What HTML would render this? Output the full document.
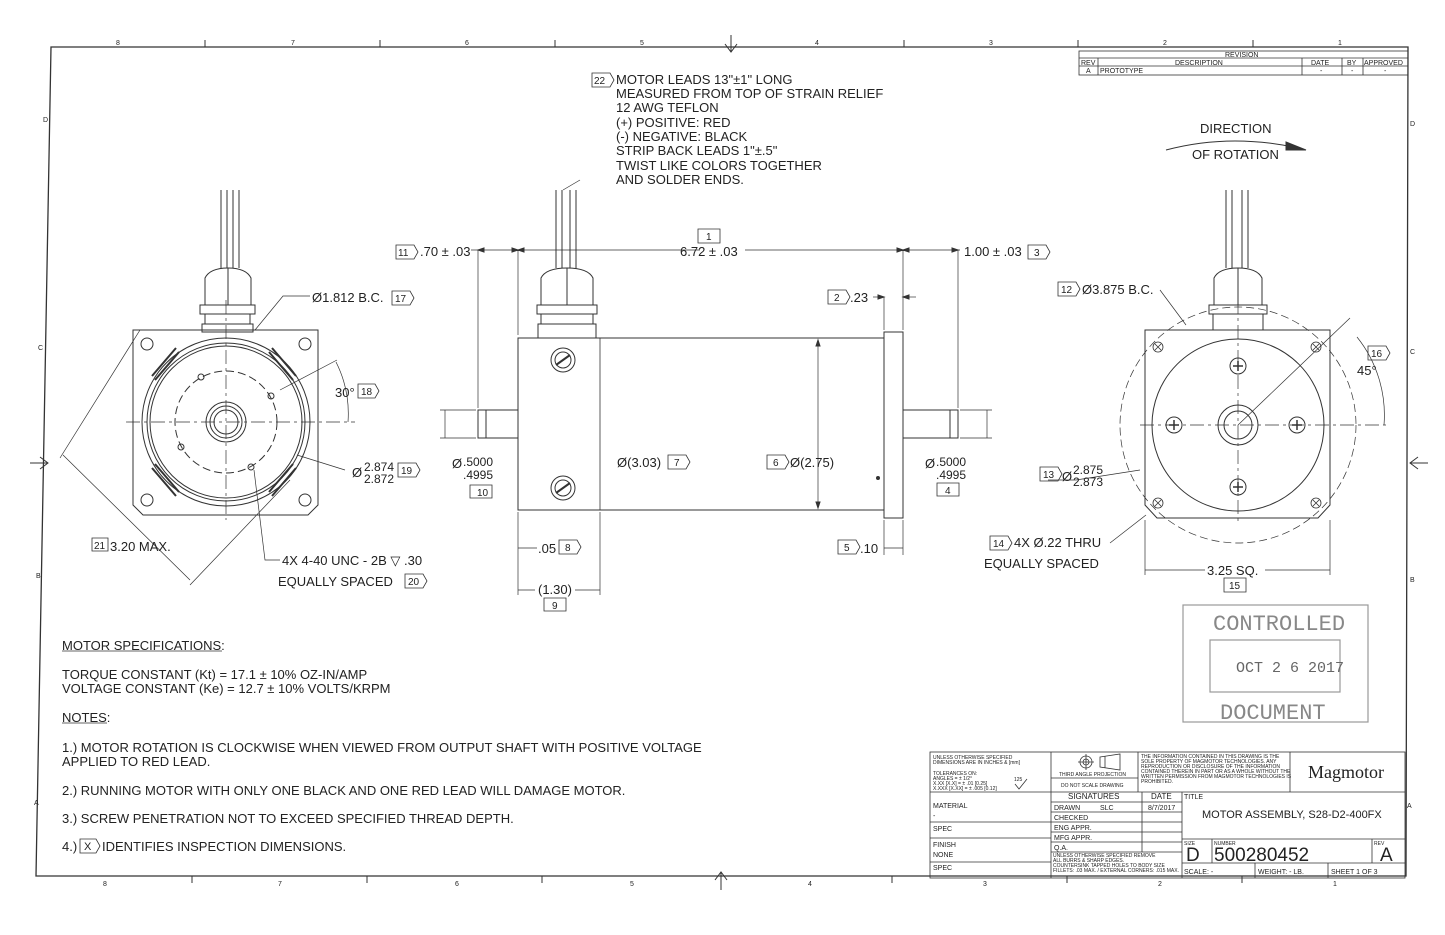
<!DOCTYPE html>
<html><head><meta charset="utf-8"><style>
html,body{margin:0;padding:0;background:#fff}
svg{display:block}
text{font-family:"Liberation Sans",Arial,sans-serif;fill:#222}
.m{font-size:13px}
.d{font-size:13px}
</style></head><body>
<svg width="1445" height="935" viewBox="0 0 1445 935" xmlns="http://www.w3.org/2000/svg" fill="none" stroke="#333" stroke-width="1">
<!-- frame -->
<path d="M51 47 L1408 47 L1406 876 L36 876 Z" stroke-width="1.3"/>
<g stroke-width="1">
<line x1="205" y1="40" x2="205" y2="47"/><line x1="380" y1="40" x2="380" y2="47"/><line x1="555" y1="40" x2="555" y2="47"/><line x1="904" y1="40" x2="904" y2="47"/><line x1="1078" y1="40" x2="1078" y2="47"/><line x1="1253" y1="40" x2="1253" y2="47"/>
<line x1="192" y1="876" x2="192" y2="883"/><line x1="367" y1="876" x2="367" y2="883"/><line x1="542" y1="876" x2="542" y2="883"/><line x1="892" y1="876" x2="892" y2="883"/><line x1="1067" y1="876" x2="1067" y2="883"/><line x1="1242" y1="876" x2="1242" y2="883"/>
</g>
<path d="M731 35 V52 M725 44 L731 52 L737 44"/>
<path d="M721 890 V872 M715 880 L721 872 L727 880"/>
<path d="M30 463 H48 M40 457 L48 463 L40 469"/>
<path d="M1428 463 H1410 M1418 457 L1410 463 L1418 469"/>
<g stroke="none" style="font-size:7px">
<text x="116" y="45">8</text><text x="291" y="45">7</text><text x="465" y="45">6</text><text x="640" y="45">5</text><text x="815" y="45">4</text><text x="989" y="45">3</text><text x="1163" y="45">2</text><text x="1338" y="45">1</text>
<text x="103" y="886">8</text><text x="278" y="886">7</text><text x="455" y="886">6</text><text x="630" y="886">5</text><text x="808" y="886">4</text><text x="983" y="886">3</text><text x="1158" y="886">2</text><text x="1333" y="886">1</text>
<text x="43" y="122">D</text><text x="38" y="350">C</text><text x="36" y="578">B</text><text x="34" y="805">A</text>
<text x="1410" y="126">D</text><text x="1410" y="354">C</text><text x="1410" y="582">B</text><text x="1407" y="808">A</text>
</g>
<!-- revision table -->
<g stroke-width="0.8">
<rect x="1079" y="51" width="329" height="24"/>
<line x1="1079" y1="58" x2="1408" y2="58"/><line x1="1079" y1="66" x2="1408" y2="66"/>
<line x1="1098" y1="58" x2="1098" y2="75"/><line x1="1302" y1="58" x2="1302" y2="75"/><line x1="1342" y1="58" x2="1342" y2="75"/><line x1="1363" y1="58" x2="1363" y2="75"/>
</g>
<g stroke="none" style="font-size:7px">
<text x="1225" y="57">REVISION</text><text x="1081" y="65">REV</text><text x="1175" y="65">DESCRIPTION</text><text x="1311" y="65">DATE</text><text x="1347" y="65">BY</text><text x="1364" y="65">APPROVED</text>
<text x="1086" y="73">A</text><text x="1100" y="73">PROTOTYPE</text><text x="1320" y="73">-</text><text x="1351" y="73">-</text><text x="1384" y="73">-</text>
</g>
<text x="1200" y="133" class="m" stroke="none">DIRECTION</text>
<text x="1192" y="159" class="m" stroke="none">OF ROTATION</text>
<path d="M1166 150 Q1230 133 1298 148"/><path d="M1286 142 L1306 150 L1286 150 Z" fill="#333"/>

<!-- LEFT VIEW -->
<g>
<line x1="221" y1="190" x2="221" y2="268"/><line x1="227" y1="190" x2="227" y2="268"/>
<line x1="233" y1="190" x2="233" y2="268"/><line x1="239" y1="190" x2="239" y2="268"/>
<path d="M205 305 V278 Q210 268 228 268 Q246 268 251 278 V305"/>
<line x1="228" y1="268" x2="228" y2="305"/>
<rect x="200" y="305" width="55" height="9"/>
<rect x="205" y="314" width="45" height="10"/>
<rect x="202" y="324" width="51" height="8"/>
<path d="M133 330 H318 V505 L308 515 H143 L133 505 Z"/>
<circle cx="226" cy="422" r="84"/><circle cx="226" cy="422" r="79"/><circle cx="226" cy="422" r="76"/>
<circle cx="147" cy="344" r="6"/><circle cx="305" cy="344" r="6"/><circle cx="147" cy="500" r="6"/><circle cx="305" cy="500" r="6"/>
<circle cx="226" cy="422" r="51" stroke-dasharray="8 4"/>
<circle cx="226" cy="422" r="20"/><circle cx="226" cy="422" r="16"/><circle cx="226" cy="422" r="12"/>
<circle cx="201" cy="377" r="3"/><circle cx="271" cy="396" r="3"/><circle cx="181" cy="447" r="3"/><circle cx="251" cy="467" r="3"/>
<path d="M152 376 L176 348 M155 380 L179 352 M296 376 L272 348 M293 380 L269 352 M152 468 L176 496 M155 464 L179 492 M296 468 L272 496 M293 464 L269 492" stroke-width="2"/>
<line x1="126" y1="422" x2="355" y2="422" stroke-dasharray="14 4 3 4" stroke-width="0.7"/>
<line x1="226" y1="300" x2="226" y2="520" stroke-dasharray="14 4 3 4" stroke-width="0.7"/>
<line x1="280" y1="390" x2="337" y2="360" stroke-width="0.7"/>
<path d="M336 362 A115 115 0 0 1 348 422" stroke-width="0.7"/>
<path d="M255 330 L283 296 H310 M297 455 L345 470 M254 470 L265 560 H280 M63 455 L190 580 M60 458 L140 330 M190 585 L290 480" stroke-width="0.7"/>
</g>
<g stroke="none" class="d">
<text x="312" y="302">Ø1.812 B.C.</text>
<text x="335" y="397">30°</text>
<text x="352" y="477">Ø</text><text x="364" y="471" style="font-size:12px">2.874</text><text x="364" y="483" style="font-size:12px">2.872</text>
<text x="110" y="551">3.20 MAX.</text>
<text x="282" y="565">4X 4-40 UNC - 2B ▽ .30</text>
<text x="278" y="586">EQUALLY SPACED</text>
</g>
<g stroke-width="0.8">
<path d="M392 291 H410 L414 298 L410 305 H392 Z"/><path d="M358 384 H375 L379 391 L375 398 H358 Z"/><path d="M398 463 H416 L420 470 L416 477 H398 Z"/>
<path d="M92 538 H108 V551 H92 Z"/><path d="M405 574 H423 L427 581 L423 588 H405 Z"/>
</g>
<g stroke="none" style="font-size:10px"><text x="395" y="302">17</text><text x="361" y="395">18</text><text x="401" y="474">19</text><text x="94" y="549">21</text><text x="408" y="585">20</text></g>

<!-- MIDDLE VIEW -->
<g>
<line x1="556" y1="190" x2="556" y2="268"/><line x1="562" y1="190" x2="562" y2="268"/>
<line x1="570" y1="190" x2="570" y2="268"/><line x1="576" y1="190" x2="576" y2="268"/>
<path d="M541 305 V278 Q546 268 567 268 Q588 268 593 278 V305"/>
<line x1="567" y1="268" x2="567" y2="305"/>
<rect x="537" y="305" width="60" height="9"/><rect x="541" y="314" width="52" height="10"/><rect x="538" y="324" width="58" height="14"/>
<rect x="518" y="338" width="366" height="172"/>
<line x1="600" y1="338" x2="600" y2="510" stroke-width="0.8"/>
<rect x="884" y="332" width="19" height="186"/>
<rect x="478" y="410" width="40" height="28"/><line x1="486" y1="410" x2="486" y2="438"/>
<rect x="903" y="410" width="55" height="28"/><line x1="950" y1="410" x2="950" y2="438"/>
<circle cx="563" cy="360" r="12"/><circle cx="563" cy="360" r="8"/><line x1="556" y1="365" x2="570" y2="355" stroke-width="2"/>
<circle cx="563" cy="488" r="12"/><circle cx="563" cy="488" r="8"/><line x1="556" y1="493" x2="570" y2="483" stroke-width="2"/>
<circle cx="878" cy="478" r="1.5" fill="#333"/>
<g stroke-width="0.7">
<line x1="478" y1="250" x2="478" y2="408"/><line x1="518" y1="250" x2="518" y2="335"/><line x1="903" y1="250" x2="903" y2="330"/><line x1="958" y1="250" x2="958" y2="408"/>
<line x1="471" y1="250" x2="518" y2="250"/><line x1="518" y1="250" x2="700" y2="250"/><line x1="745" y1="250" x2="903" y2="250"/><line x1="903" y1="250" x2="960" y2="250"/>
<line x1="884" y1="297" x2="884" y2="330"/><line x1="873" y1="297" x2="884" y2="297"/><line x1="903" y1="297" x2="916" y2="297"/>
<line x1="818" y1="340" x2="818" y2="508"/>
<line x1="440" y1="410" x2="476" y2="410"/><line x1="440" y1="438" x2="476" y2="438"/><line x1="445" y1="410" x2="445" y2="438"/>
<line x1="960" y1="410" x2="992" y2="410"/><line x1="960" y1="438" x2="992" y2="438"/><line x1="987" y1="410" x2="987" y2="438"/>
<line x1="518" y1="512" x2="518" y2="595"/><line x1="600" y1="512" x2="600" y2="595"/><line x1="537" y1="548" x2="518" y2="548"/>
<line x1="518" y1="590" x2="535" y2="590"/><line x1="575" y1="590" x2="600" y2="590"/>
<line x1="884" y1="520" x2="884" y2="555"/><line x1="903" y1="520" x2="903" y2="555"/><line x1="884" y1="548" x2="903" y2="548"/>
<line x1="563" y1="190" x2="580" y2="180"/>
</g>
<path d="M478 250 l6 -2 v4 Z M518 250 l-6 -2 v4 Z M518 250 l6 -2 v4 Z M903 250 l-6 -2 v4 Z M903 250 l6 -2 v4 Z M958 250 l-6 -2 v4Z M884 297 l-6 -2 v4 Z M903 297 l6 -2 v4 Z M818 340 l-2 6 h4 Z M818 508 l-2 -6 h4 Z" fill="#333"/>
</g>
<g stroke="none" class="d">
<text x="616" y="84">MOTOR LEADS 13"±1" LONG</text>
<text x="616" y="98">MEASURED FROM TOP OF STRAIN RELIEF</text>
<text x="616" y="112">12 AWG TEFLON</text>
<text x="616" y="127">(+) POSITIVE: RED</text>
<text x="616" y="141">(-) NEGATIVE: BLACK</text>
<text x="616" y="155">STRIP BACK LEADS 1"±.5"</text>
<text x="616" y="170">TWIST LIKE COLORS TOGETHER</text>
<text x="616" y="184">AND SOLDER ENDS.</text>
<text x="420" y="256">.70 ± .03</text>
<text x="680" y="256">6.72 ± .03</text>
<text x="964" y="256">1.00 ± .03</text>
<text x="850" y="302">.23</text>
<text x="617" y="467">Ø(3.03)</text>
<text x="790" y="467">Ø(2.75)</text>
<text x="452" y="468">Ø</text><text x="463" y="466" style="font-size:12px">.5000</text><text x="463" y="479" style="font-size:12px">.4995</text>
<text x="925" y="468">Ø</text><text x="936" y="466" style="font-size:12px">.5000</text><text x="936" y="479" style="font-size:12px">.4995</text>
<text x="538" y="553">.05</text>
<text x="538" y="594">(1.30)</text>
<text x="860" y="553">.10</text>
</g>
<g stroke-width="0.8">
<path d="M592 73 H610 L614 80 L610 87 H592 Z"/>
<path d="M698 229 H720 V243 H698 Z"/>
<path d="M396 245 H414 L418 252 L414 259 H396 Z"/>
<path d="M1028 245 H1046 L1050 252 L1046 259 H1028 Z"/>
<path d="M828 290 H846 L850 297 L846 304 H828 Z"/>
<path d="M668 455 H686 L690 462 L686 469 H668 Z"/>
<path d="M767 455 H785 L789 462 L785 469 H767 Z"/>
<path d="M470 485 H492 V498 H470 Z"/><path d="M937 483 H959 V496 H937 Z"/>
<path d="M559 540 H577 L581 547 L577 554 H559 Z"/>
<path d="M838 540 H856 L860 547 L856 554 H838 Z"/>
<path d="M544 598 H566 V611 H544 Z"/>
</g>
<g stroke="none" style="font-size:10px">
<text x="594" y="84">22</text><text x="706" y="240">1</text><text x="398" y="256">11</text><text x="1034" y="256">3</text><text x="834" y="301">2</text>
<text x="674" y="466">7</text><text x="773" y="466">6</text><text x="477" y="496">10</text><text x="945" y="494">4</text>
<text x="565" y="551">8</text><text x="844" y="551">5</text><text x="552" y="609">9</text>
</g>

<!-- RIGHT VIEW -->
<g>
<line x1="1226" y1="190" x2="1226" y2="268"/><line x1="1232" y1="190" x2="1232" y2="268"/>
<line x1="1242" y1="190" x2="1242" y2="268"/><line x1="1248" y1="190" x2="1248" y2="268"/>
<path d="M1214 305 V278 Q1219 268 1238 268 Q1257 268 1262 278 V305"/>
<line x1="1238" y1="268" x2="1238" y2="305"/>
<rect x="1209" y="305" width="58" height="9"/><rect x="1213" y="314" width="50" height="16"/>
<path d="M1145 330 H1330 V505 L1318 518 H1157 L1145 505 Z"/>
<circle cx="1238" cy="425" r="86"/>
<circle cx="1238" cy="425" r="118" stroke-dasharray="8 4" stroke-width="0.7"/>
<circle cx="1238" cy="425" r="20"/><circle cx="1238" cy="425" r="14"/>
<g stroke-width="0.8">
<circle cx="1158" cy="347" r="5"/><path d="M1155 344 l6 6 M1161 344 l-6 6"/>
<circle cx="1316" cy="347" r="5"/><path d="M1313 344 l6 6 M1319 344 l-6 6"/>
<circle cx="1158" cy="503" r="5"/><path d="M1155 500 l6 6 M1161 500 l-6 6"/>
<circle cx="1316" cy="503" r="5"/><path d="M1313 500 l6 6 M1319 500 l-6 6"/>
</g>
<circle cx="1174" cy="425" r="8"/><path d="M1169 425 h10 M1174 420 v10" stroke-width="1.5"/>
<circle cx="1297" cy="425" r="8"/><path d="M1292 425 h10 M1297 420 v10" stroke-width="1.5"/>
<circle cx="1238" cy="366" r="8"/><path d="M1233 366 h10 M1238 361 v10" stroke-width="1.5"/>
<circle cx="1238" cy="487" r="8"/><path d="M1233 487 h10 M1238 482 v10" stroke-width="1.5"/>
<line x1="1140" y1="425" x2="1390" y2="425" stroke-dasharray="14 4 3 4" stroke-width="0.7"/>
<line x1="1238" y1="300" x2="1238" y2="525" stroke-dasharray="14 4 3 4" stroke-width="0.7"/>
<g stroke-width="0.7">
<line x1="1238" y1="425" x2="1350" y2="318"/>
<path d="M1357 337 A125 125 0 0 1 1384 425"/>
<path d="M1160 290 L1186 325 M1076 480 H1048 M1076 480 L1140 470 M1110 543 L1146 515 M1145 520 V575 M1330 520 V575 M1145 570 H1205 M1265 570 H1330"/>
</g>
</g>
<g stroke="none" class="d">
<text x="1082" y="294">Ø3.875 B.C.</text>
<text x="1357" y="375">45°</text>
<text x="1062" y="481">Ø</text><text x="1073" y="474" style="font-size:12px">2.875</text><text x="1073" y="486" style="font-size:12px">2.873</text>
<text x="1014" y="547">4X Ø.22 THRU</text>
<text x="984" y="568">EQUALLY SPACED</text>
<text x="1207" y="575">3.25 SQ.</text>
</g>
<g stroke-width="0.8">
<path d="M1058 282 H1076 L1080 289 L1076 296 H1058 Z"/>
<path d="M1368 346 H1386 L1390 353 L1386 360 H1368 Z"/>
<path d="M1040 467 H1058 L1062 474 L1058 481 H1040 Z"/>
<path d="M990 536 H1008 L1012 543 L1008 550 H990 Z"/>
<path d="M1224 578 H1246 V592 H1224 Z"/>
</g>
<g stroke="none" style="font-size:10px"><text x="1061" y="293">12</text><text x="1371" y="357">16</text><text x="1043" y="478">13</text><text x="993" y="547">14</text><text x="1229" y="589">15</text></g>

<!-- stamp -->
<g stroke="#999" stroke-width="1.2">
<rect x="1183" y="605" width="185" height="117"/>
<rect x="1210" y="640" width="130" height="52"/>
</g>
<g stroke="none">
<text x="1213" y="630" style="font-size:22px;fill:#888;font-family:'Liberation Mono',monospace">CONTROLLED</text>
<text x="1236" y="672" style="font-size:15px;fill:#666;font-family:'Liberation Mono',monospace">OCT 2 6 2017</text>
<text x="1220" y="719" style="font-size:22px;fill:#888;font-family:'Liberation Mono',monospace">DOCUMENT</text>
</g>

<!-- notes -->
<g stroke="none" class="m">
<text x="62" y="650">MOTOR SPECIFICATIONS:</text>
<text x="62" y="679">TORQUE CONSTANT (Kt) = 17.1 ± 10% OZ-IN/AMP</text>
<text x="62" y="693">VOLTAGE CONSTANT (Ke) = 12.7 ± 10% VOLTS/KRPM</text>
<text x="62" y="722">NOTES:</text>
<text x="62" y="752">1.) MOTOR ROTATION IS CLOCKWISE WHEN VIEWED FROM OUTPUT SHAFT WITH POSITIVE VOLTAGE</text>
<text x="62" y="766">APPLIED TO RED LEAD.</text>
<text x="62" y="795">2.) RUNNING MOTOR WITH ONLY ONE BLACK AND ONE RED LEAD WILL DAMAGE MOTOR.</text>
<text x="62" y="823">3.) SCREW PENETRATION NOT TO EXCEED SPECIFIED THREAD DEPTH.</text>
<text x="62" y="851">4.)</text><text x="102" y="851">IDENTIFIES INSPECTION DIMENSIONS.</text>
</g>
<path d="M62 651 H222 M62 723 H107" stroke-width="0.8"/>
<path d="M80 839 H96 L100 846 L96 853 H80 Z" stroke-width="0.8"/>
<text x="84" y="850" stroke="none" style="font-size:11px">X</text>

<!-- title block -->
<g stroke-width="0.8">
<rect x="930" y="752" width="475" height="126"/>
<line x1="1051" y1="752" x2="1051" y2="878"/>
<line x1="1138" y1="752" x2="1138" y2="792"/>
<line x1="1290" y1="752" x2="1290" y2="792"/>
<line x1="1051" y1="792" x2="1405" y2="792"/>
<line x1="930" y1="792" x2="1051" y2="792"/>
<line x1="1142" y1="792" x2="1142" y2="852"/>
<line x1="1182" y1="792" x2="1182" y2="878"/>
<line x1="1051" y1="802" x2="1182" y2="802"/><line x1="1051" y1="812" x2="1182" y2="812"/><line x1="1051" y1="822" x2="1182" y2="822"/><line x1="1051" y1="832" x2="1182" y2="832"/><line x1="1051" y1="842" x2="1182" y2="842"/><line x1="1051" y1="852" x2="1182" y2="852"/>
<line x1="1051" y1="778" x2="1138" y2="778"/>
<line x1="930" y1="822" x2="1051" y2="822"/><line x1="930" y1="838" x2="1051" y2="838"/><line x1="930" y1="862" x2="1051" y2="862"/>
<line x1="1182" y1="839" x2="1405" y2="839"/><line x1="1182" y1="863" x2="1405" y2="863"/>
<line x1="1212" y1="839" x2="1212" y2="863"/><line x1="1372" y1="839" x2="1372" y2="863"/>
<line x1="1255" y1="863" x2="1255" y2="878"/><line x1="1328" y1="863" x2="1328" y2="878"/>
<circle cx="1086" cy="762" r="6"/><circle cx="1086" cy="762" r="3"/><path d="M1078 762 h16 M1086 754 v16"/>
<path d="M1100 757 L1120 754 V770 L1100 767 Z M1105 756 V768"/>
<path d="M1015 784 l4 5 l8 -10"/>
</g>
<g stroke="none" style="font-size:5px">
<text x="933" y="759">UNLESS OTHERWISE SPECIFIED</text><text x="933" y="764">DIMENSIONS ARE IN INCHES &amp; [mm]</text>
<text x="933" y="775">TOLERANCES ON:</text><text x="933" y="780">ANGLES = ± 1/2°</text><text x="933" y="785">X.XX [X.X] = ± .01 [0.25]</text><text x="933" y="790">X.XXX [X.XX] = ± .005 [0.12]</text>
<text x="1014" y="781">125</text>
<text x="1059" y="776">THIRD ANGLE PROJECTION</text><text x="1061" y="787">DO NOT SCALE DRAWING</text>
<text x="1141" y="758">THE INFORMATION CONTAINED IN THIS DRAWING IS THE</text>
<text x="1141" y="763">SOLE PROPERTY OF MAGMOTOR TECHNOLOGIES.  ANY</text>
<text x="1141" y="768">REPRODUCTION OR DISCLOSURE OF THE INFORMATION</text>
<text x="1141" y="773">CONTAINED THEREIN IN PART OR AS A WHOLE WITHOUT THE</text>
<text x="1141" y="778">WRITTEN PERMISSION FROM MAGMOTOR TECHNOLOGIES IS</text>
<text x="1141" y="783">PROHIBITED.</text>
<text x="1053" y="857">UNLESS OTHERWISE SPECIFIED REMOVE</text><text x="1053" y="862">ALL BURRS &amp; SHARP EDGES.</text><text x="1053" y="867">COUNTERSINK TAPPED HOLES TO BODY SIZE</text><text x="1053" y="872">FILLETS: .03 MAX. / EXTERNAL CORNERS: .015 MAX.</text>
<text x="1184" y="845">SIZE</text><text x="1214" y="845">NUMBER</text><text x="1374" y="845">REV</text>
</g>
<g stroke="none" style="font-size:7px">
<text x="933" y="808">MATERIAL</text><text x="933" y="818">-</text><text x="933" y="831">SPEC</text>
<text x="933" y="847">FINISH</text><text x="933" y="857">NONE</text><text x="933" y="870">SPEC</text>
<text x="1054" y="810">DRAWN</text><text x="1100" y="810">SLC</text><text x="1148" y="810">8/7/2017</text>
<text x="1054" y="820">CHECKED</text><text x="1054" y="830">ENG APPR.</text><text x="1054" y="840">MFG APPR.</text><text x="1054" y="850">Q.A.</text>
<text x="1184" y="799">TITLE</text>
<text x="1184" y="874">SCALE: -</text><text x="1258" y="874">WEIGHT: - LB.</text><text x="1331" y="874">SHEET 1  OF  3</text>
</g>
<text x="1068" y="799" stroke="none" style="font-size:8px">SIGNATURES</text>
<text x="1151" y="799" stroke="none" style="font-size:8px">DATE</text>
<text x="1202" y="818" stroke="none" style="font-size:11px">MOTOR ASSEMBLY, S28-D2-400FX</text>
<text x="1186" y="861" stroke="none" style="font-size:19px">D</text>
<text x="1214" y="861" stroke="none" style="font-size:19px">500280452</text>
<text x="1380" y="861" stroke="none" style="font-size:19px">A</text>
<text x="1308" y="778" stroke="none" style="font-size:18px;font-family:'Liberation Serif',serif">Magmotor</text>
</svg>
</body></html>
